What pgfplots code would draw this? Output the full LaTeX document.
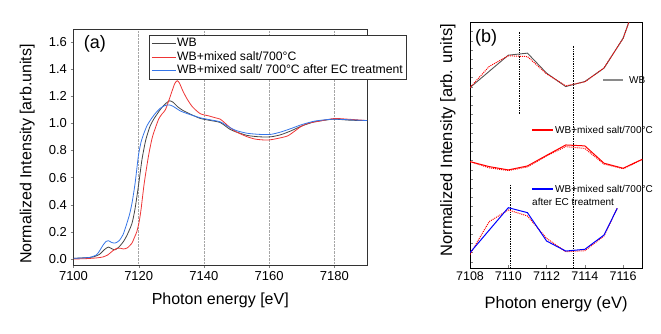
\documentclass[border=0pt]{standalone}
\usepackage{fontspec}
\setmainfont{Liberation Sans}
\usepackage{pgfplots}
\pgfplotsset{compat=1.18}
\definecolor{wbgray}{HTML}{454545}
\definecolor{saltred}{HTML}{EE3535}
\definecolor{ecblue}{HTML}{3575E8}
\definecolor{bgray}{HTML}{555555}
\definecolor{keygray}{HTML}{8A8A8A}

\begin{document}
\begin{tikzpicture}[x=1pt,y=1pt]
\path[use as bounding box] (0,0) rectangle (661,334);

% ---------- panel (a) ----------
\begin{axis}[
  at={(73.5pt,69pt)}, anchor=south west,
  scale only axis, width=293.5pt, height=236pt,
  xmin=7100, xmax=7190, ymin=-0.044, ymax=1.694,
  xtick={7100,7120,7140,7160,7180},
  ytick={0,0.2,0.4,0.6,0.8,1.0,1.2,1.4,1.6},
  xtick pos=left, ytick pos=left, tick align=outside,
  major tick length=3pt,
  axis line style={black!80},
  xmajorgrids, grid style={densely dotted, gray!70, line width=0.6pt},
  tick label style={font=\fontsize{13}{13}\selectfont},
  /pgf/number format/assume math mode=true,
  /pgf/number format/set thousands separator={},
  yticklabel style={/pgf/number format/.cd, fixed, fixed zerofill, precision=1},
  xlabel={Photon energy [eV]},
  ylabel={Normalized Intensity [arb.units]},
  label style={font=\fontsize{16}{16}\selectfont},
  xlabel style={at={(axis description cs:0.5,-0.148)}, anchor=center},
  ylabel style={at={(axis description cs:-0.158,0.47)}, anchor=center},
  legend cell align=left,
  legend image code/.code={\draw[#1] (0pt,0pt) -- (24pt,0pt);},
  legend style={at={(axis description cs:0.258,0.975)}, anchor=north west,
    draw=black!80, fill=white, font=\fontsize{12.2}{12.5}\selectfont,
    inner sep=2pt, row sep=0pt,
    nodes={inner sep=1pt, text height=8.8pt, text depth=2.5pt}},
  clip mode=individual,
]
\addplot[wbgray, line width=0.8pt, smooth, tension=0.4] coordinates {
(7100,0.005) (7104,0.01) (7106,0.015) (7108,0.035) (7109.5,0.07) (7110.7,0.088)
(7111.8,0.075) (7112.8,0.068) (7114,0.09) (7115.3,0.128) (7116.5,0.18) (7117.9,0.26)
(7118.8,0.36) (7119.9,0.536) (7121,0.733) (7122,0.86) (7122.5,0.906) (7123.5,0.98)
(7124.6,1.03) (7126,1.08) (7127.1,1.116) (7128.5,1.15) (7129.5,1.165) (7130.5,1.155)
(7132,1.12) (7133.5,1.095) (7136,1.065) (7138.9,1.035) (7142,1.02) (7145,1.005)
(7148,0.955) (7150,0.935) (7153.3,0.91) (7157,0.90) (7160.5,0.90) (7163.5,0.915)
(7166.6,0.943) (7170,0.98) (7173.8,1.01) (7177,1.022) (7180,1.03) (7185,1.022) (7190,1.02)};
\addlegendentry{WB}
\addplot[saltred, line width=0.8pt, smooth, tension=0.4] coordinates {
(7100,0.0) (7104,0.003) (7107,0.008) (7109,0.015) (7110.5,0.03) (7112,0.06)
(7113.3,0.079) (7114.3,0.08) (7115.3,0.074) (7116.5,0.082) (7117.9,0.116) (7118.7,0.16)
(7119.4,0.2) (7120.1,0.27) (7120.7,0.363) (7121.7,0.56) (7123,0.76) (7124,0.88)
(7124.6,0.93) (7126.1,1.03) (7127.2,1.07) (7128.2,1.10) (7129.7,1.20) (7131,1.29)
(7131.8,1.313) (7132.5,1.295) (7133.5,1.24) (7134.8,1.18) (7136.5,1.12) (7138.9,1.07)
(7141.5,1.054) (7143.5,1.04) (7145,1.03) (7146.5,1.0) (7148,0.968) (7150,0.935)
(7153.3,0.90) (7156,0.882) (7159.4,0.876) (7162,0.885) (7165.6,0.906) (7168,0.945)
(7169.7,0.975) (7172,1.0) (7175.8,1.017) (7180,1.035) (7184,1.03) (7187,1.025) (7190,1.02)};
\addlegendentry{WB+mixed salt/700°C}
\addplot[ecblue, line width=0.8pt, smooth, tension=0.4] coordinates {
(7100,0.005) (7103,0.008) (7105,0.012) (7107,0.03) (7108,0.06) (7109,0.1)
(7110,0.13) (7110.7,0.135) (7111.7,0.122) (7112.8,0.118) (7114,0.135) (7115.2,0.18)
(7116.2,0.25) (7117.2,0.33) (7118,0.42) (7118.9,0.56) (7119.9,0.76) (7120.7,0.86)
(7121.5,0.92) (7122.5,0.98) (7123.5,1.02) (7125,1.07) (7126.6,1.11) (7128,1.13)
(7129.3,1.135) (7130.5,1.125) (7132.8,1.09) (7135,1.07) (7138.9,1.04) (7142,1.025)
(7145,1.01) (7148,0.968) (7150,0.945) (7153.3,0.926) (7157,0.918) (7160.5,0.918)
(7163.5,0.935) (7166.6,0.96) (7170,0.99) (7173.8,1.015) (7177,1.025) (7180,1.03)
(7185,1.025) (7190,1.02)};
\addlegendentry{WB+mixed salt/ 700°C after EC treatment}
\node[font=\fontsize{18}{18}\selectfont] at (axis description cs:0.073,0.936) {(a)};
\end{axis}

% ---------- panel (b) ----------
\begin{axis}[
  at={(470pt,66pt)}, anchor=south west,
  scale only axis, width=172.3pt, height=245.7pt,
  xmin=7108, xmax=7117, ymin=-0.68, ymax=26,
  xtick={7108,7110,7112,7114,7116},
  ytick={0,1,...,26}, yticklabels={},
  xtick pos=left, ytick pos=left, tick align=inside,
  major tick length=3pt,
  tick label style={font=\fontsize{12.5}{12.5}\selectfont},
  /pgf/number format/assume math mode=true,
  /pgf/number format/set thousands separator={},
  xlabel={Photon energy (eV)},
  ylabel={Normalized Intensity [arb. units]},
  label style={font=\fontsize{16.5}{16.5}\selectfont},
  xlabel style={at={(axis description cs:0.5,-0.146)}, anchor=center},
  ylabel style={at={(axis description cs:-0.128,0.52)}, anchor=center},
  clip mode=individual,
]
% guide lines
\addplot[black, densely dotted, line width=0.7pt] coordinates {(7110.56,24.97) (7110.56,16.05)};
\addplot[black, densely dotted, line width=0.7pt] coordinates {(7113.4,23.45) (7113.4,-0.68)};
\addplot[black, densely dotted, line width=0.7pt] coordinates {(7110.09,8.34) (7110.09,-0.68)};
% WB
\addplot[bgray, line width=0.9pt] coordinates {
(7108,18.91) (7110,22.43) (7111,22.65) (7112,20.48) (7113,19.02) (7114,19.57)
(7115,21.02) (7116,24.28) (7117,30.1)};
\addplot[red, densely dotted, line width=1pt] coordinates {
(7108,18.91) (7109,21.2) (7110,22.36) (7111,22.28) (7112,20.4) (7113,19.1)
(7114,19.53) (7115,21.05) (7116,24.26) (7117,30.1)};
% WB + mixed salt
\addplot[red, densely dotted, line width=1pt] coordinates {
(7108,10.87) (7109,10.2) (7110,9.9) (7111,10.3) (7112,11.5) (7113,12.5)
(7114,12.3) (7115,10.6) (7116,10.1) (7117,11.1)};
\addplot[red, line width=1pt] coordinates {
(7108,10.87) (7109,10.33) (7110,9.97) (7111,10.4) (7112,11.55) (7113,12.68)
(7114,12.58) (7115,10.7) (7116,10.15) (7117,11.13)};
% after EC treatment
\addplot[red, densely dotted, line width=1pt] coordinates {
(7108,0.8) (7109,4.35) (7110,5.62) (7111,4.97) (7112,2.54) (7113,1.09)
(7114,1.2) (7115,2.8) (7115.69,5.8)};
\addplot[blue, line width=1pt] coordinates {
(7108,0.98) (7110,5.87) (7111,5.33) (7112,2.25) (7113,1.16) (7114,1.35)
(7115,2.9) (7115.69,5.8)};
% label keys and texts
\draw[keygray, line width=1.6pt] (axis cs:7114.95,19.75) -- (axis cs:7115.99,19.75);
\draw[red, line width=1.3pt] (axis cs:7111.24,14.32) -- (axis cs:7112.33,14.32);
\draw[blue, line width=1.1pt] (axis cs:7111.24,7.9) -- (axis cs:7112.33,7.9);
\node[anchor=west, inner sep=0pt, font=\fontsize{10}{10}\selectfont] at (axis cs:7116.3,19.75) {WB};
\node[anchor=west, inner sep=0pt, font=\fontsize{10}{10}\selectfont] at (axis cs:7112.44,14.32) {WB+mixed salt/700°C};
\node[anchor=west, inner sep=0pt, font=\fontsize{10}{10}\selectfont] at (axis cs:7112.44,7.9) {WB+mixed salt/700°C};
\node[anchor=west, inner sep=0pt, font=\fontsize{10}{10}\selectfont] at (axis cs:7111.24,6.49) {after EC treatment};
\node[font=\fontsize{18}{18}\selectfont] at (axis description cs:0.093,0.938) {(b)};
\end{axis}
\end{tikzpicture}
\end{document}
